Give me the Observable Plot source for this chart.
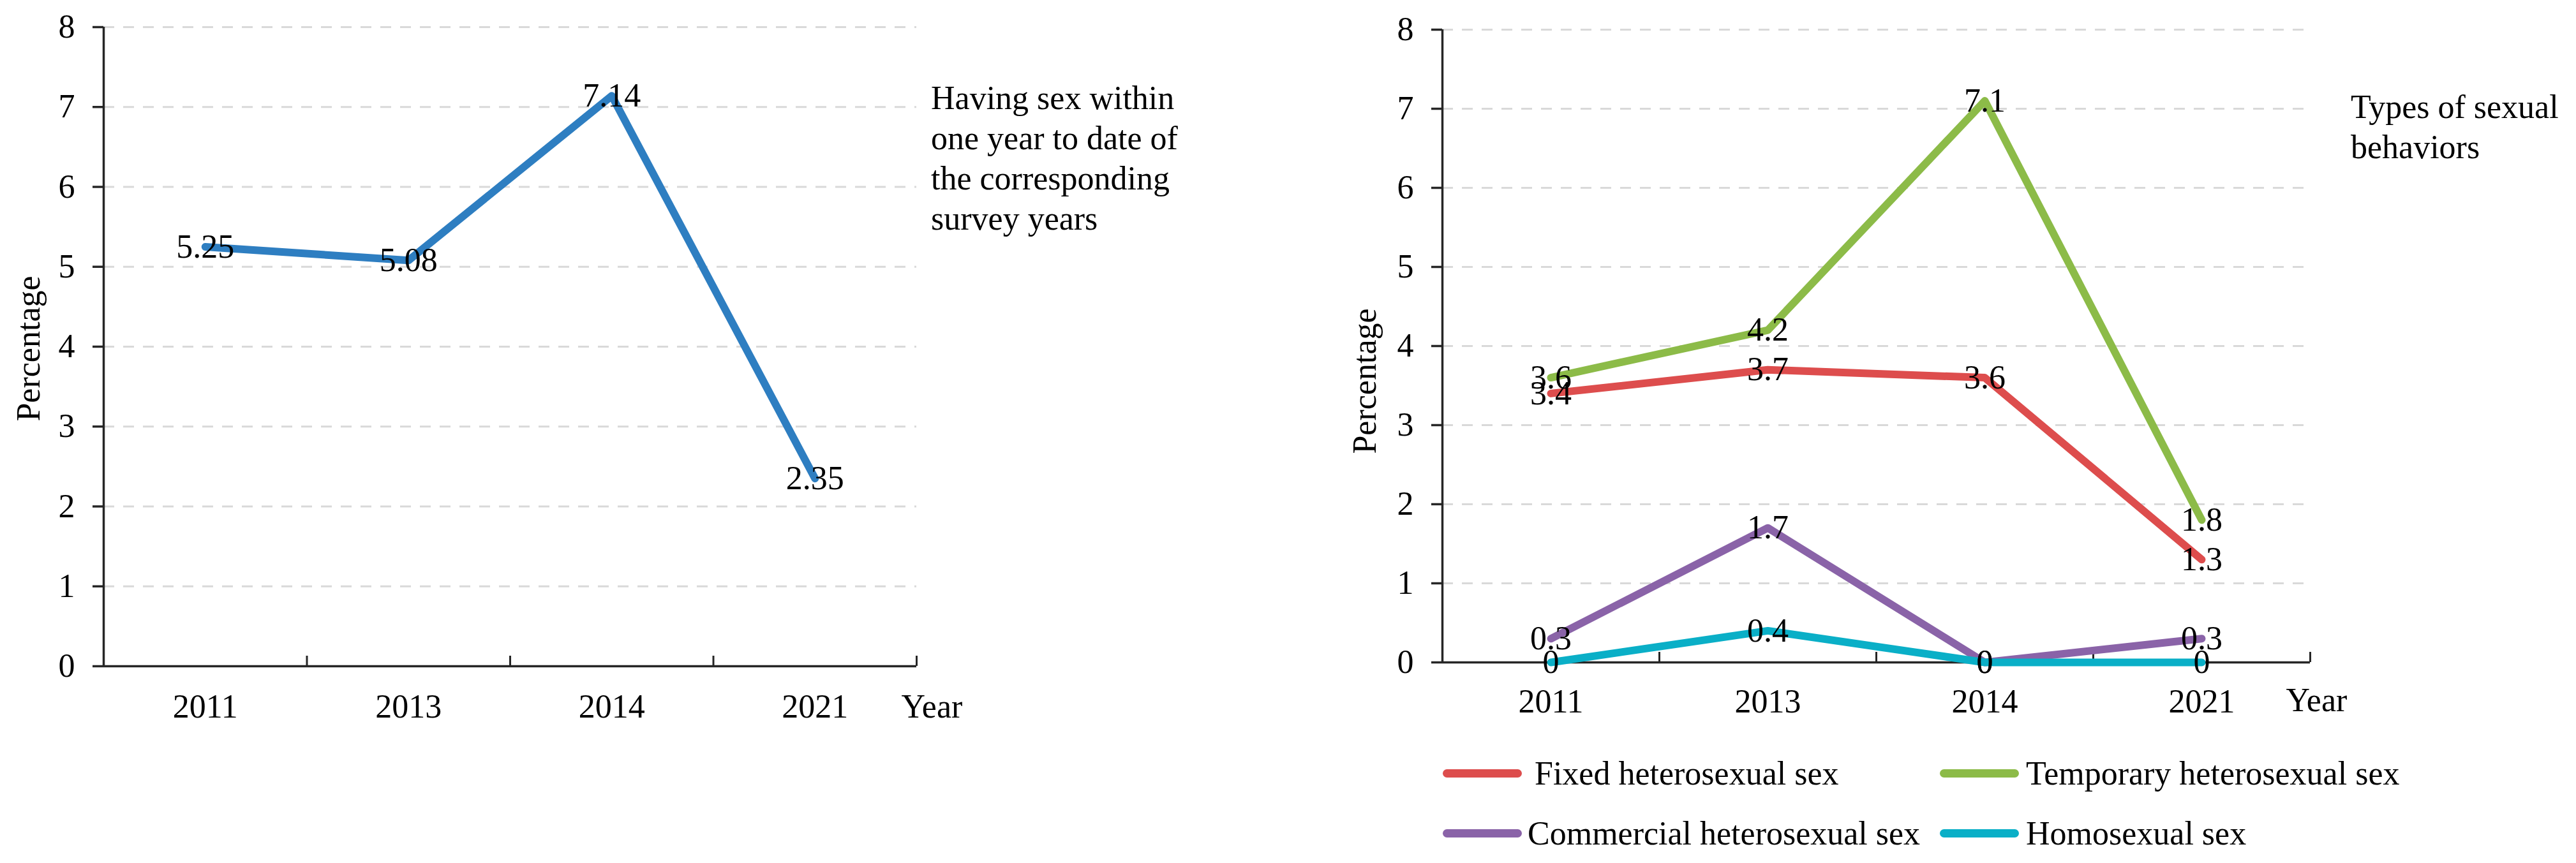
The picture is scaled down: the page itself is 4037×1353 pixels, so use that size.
<!DOCTYPE html>
<html>
<head>
<meta charset="utf-8">
<script src="https://cdn.jsdelivr.net/npm/d3@7"></script>
<script src="https://cdn.jsdelivr.net/npm/@observablehq/plot@0.6"></script>
<style>
  html, body { margin: 0; padding: 0; background: #fff; }
  body { width: 4037px; height: 1353px; position: relative; overflow: hidden;
         font-family: "Liberation Serif", "Times New Roman", serif; color: #000; }
  #left, #right { position: absolute; top: 0; }
  #left { left: 0; }
  #right { left: 2037px; }
  .note { position: absolute; font-size: 52px; line-height: 63px; white-space: nowrap; }
  .leg { position: absolute; height: 60px; display: flex; align-items: center; font-size: 52px; white-space: nowrap; }
  .sw { position: absolute; width: 124px; height: 13px; border-radius: 7px; }
</style>
</head>
<body>
<div id="left"></div>
<div id="right"></div>
<div id="notes"></div>
<div id="legend"></div>
<script>
// ---------- data ----------
const years = ["2011", "2013", "2014", "2021"];
const yTicks = [0, 1, 2, 3, 4, 5, 6, 7, 8];

const overallName = "Having sex within one year to date of the corresponding survey years";
const overallLines = ["Having sex within", "one year to date of", "the corresponding", "survey years"];
const overall = [5.25, 5.08, 7.14, 2.35];

const typesTitleLines = ["Types of sexual", "behaviors"];
const seriesNames = ["Fixed heterosexual sex", "Temporary heterosexual sex", "Commercial heterosexual sex", "Homosexual sex"];
const fixed = [3.4, 3.7, 3.6, 1.3];
const temporary = [3.6, 4.2, 7.1, 1.8];
const commercial = [0.3, 1.7, 0, 0.3];
const homosexual = [0, 0.4, 0, 0];

const yLabel = "Percentage";
const xLabel = "Year";

// ---------- styling ----------
const FONT = "Liberation Serif, Times New Roman, serif";
const AXIS = "#262626";
const colors = {
  overall: "#2E7EC1",
  fixed: "#DD4D4D",
  temporary: "#8CBB48",
  commercial: "#8A63A8",
  homosexual: "#0AAFC7"
};

function toRows(name, values) {
  return values.map((v, i) => ({ series: name, i, x: i + 0.5, y: v }));
}

function chart(opts) {
  const { width, height, marginLeft, marginRight, marginTop, marginBottom, series,
          ylabDx, ylabDy, yearDx, yearDy, xPad } = opts;
  const plotH = height - marginTop - marginBottom;
  const marks = [
    Plot.gridY(yTicks.filter(d => d > 0), { stroke: "#d9d9d9", strokeOpacity: 1, strokeWidth: 3, strokeDasharray: "17,14" }),
    Plot.axisY({ ticks: yTicks, tickSize: 17, tickPadding: 28, tickFormat: d => String(d), label: null,
                 stroke: AXIS, strokeWidth: 3.5, fontSize: 52, fill: "#000" }),
    Plot.axisX({ ticks: years.map((_, i) => i + 0.5), tickFormat: d => years[Math.round(d - 0.5)],
                 tickSize: 0, tickPadding: xPad, label: null, fontSize: 52, fill: "#000" }),
    Plot.ruleX([0], { stroke: AXIS, strokeWidth: 3.5 }),
    Plot.ruleY([0], { stroke: AXIS, strokeWidth: 3.5 }),
    Plot.tickX(d3.range(years.length + 1), { x: d => d, insetTop: plotH - 16, stroke: AXIS, strokeWidth: 3 }),
    Plot.text([yLabel], { frameAnchor: "left", text: d => d, rotate: -90, textAnchor: "middle", dx: ylabDx, dy: ylabDy, fontSize: 52, fill: "#000", lineAnchor: "middle" }),
    Plot.text([xLabel], { frameAnchor: "bottom-right", text: d => d, textAnchor: "start", dx: yearDx, dy: yearDy, fontSize: 52, fill: "#000", lineAnchor: "middle" })
  ];
  for (const s of series) {
    marks.push(Plot.line(s.rows, { x: "x", y: "y", stroke: s.color, strokeWidth: 12, strokeLinecap: "round", strokeLinejoin: "round" }));
  }
  for (const s of series) {
    marks.push(Plot.text(s.rows, { x: "x", y: "y", text: d => String(d.y), lineAnchor: "middle", fontSize: 52, fill: "#000" }));
  }
  return Plot.plot({
    width, height, marginLeft, marginRight, marginTop, marginBottom,
    style: { fontFamily: FONT, fontSize: "52px", color: "#000", background: "transparent", overflow: "visible" },
    x: { type: "linear", domain: [0, years.length] },
    y: { domain: [0, 8] },
    marks
  });
}

document.getElementById("left").append(chart({
  width: 2037, height: 1353, marginLeft: 162, marginRight: 2037 - 1436, marginTop: 42, marginBottom: 1353 - 1044,
  series: [{ name: overallName, color: colors.overall, rows: toRows(overallName, overall) }],
  ylabDx: -117, ylabDy: 3, yearDx: -24, yearDy: 64, xPad: 44
}));

document.getElementById("right").append(chart({
  width: 2000, height: 1353, marginLeft: 2260 - 2037, marginRight: 2000 - (3620 - 2037), marginTop: 46, marginBottom: 1353 - 1038,
  series: [
    { name: seriesNames[0], color: colors.fixed, rows: toRows(seriesNames[0], fixed) },
    { name: seriesNames[1], color: colors.temporary, rows: toRows(seriesNames[1], temporary) },
    { name: seriesNames[2], color: colors.commercial, rows: toRows(seriesNames[2], commercial) },
    { name: seriesNames[3], color: colors.homosexual, rows: toRows(seriesNames[3], homosexual) }
  ],
  ylabDx: -121, ylabDy: 55, yearDx: -38, yearDy: 60, xPad: 42
}));

// ---------- annotation notes ----------
const notes = document.getElementById("notes");
function note(lines, left, top) {
  const d = document.createElement("div");
  d.className = "note";
  d.style.left = left + "px";
  d.style.top = top + "px";
  d.innerHTML = lines.join("<br>");
  notes.append(d);
}
note(overallLines, 1459, 122);
note(typesTitleLines, 3684, 136);

// ---------- legend ----------
const legend = document.getElementById("legend");
const legendColors = [colors.fixed, colors.temporary, colors.commercial, colors.homosexual];
const legPos = [
  { sw: 2261, tx: 2405, y: 1212 },
  { sw: 3040, tx: 3175, y: 1212 },
  { sw: 2261, tx: 2394, y: 1306 },
  { sw: 3040, tx: 3175, y: 1306 }
];
seriesNames.forEach((name, k) => {
  const p = legPos[k];
  const sw = document.createElement("div");
  sw.className = "sw";
  sw.style.left = p.sw + "px";
  sw.style.top = (p.y - 6.5) + "px";
  sw.style.background = legendColors[k];
  legend.append(sw);
  const t = document.createElement("div");
  t.className = "leg";
  t.style.left = p.tx + "px";
  t.style.top = (p.y - 30) + "px";
  t.textContent = name;
  legend.append(t);
});
</script>
</body>
</html>
